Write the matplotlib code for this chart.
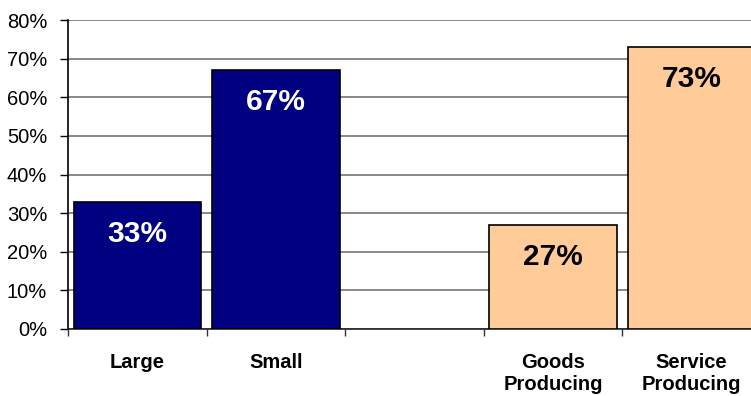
import matplotlib
matplotlib.use("Agg")
import matplotlib.pyplot as plt
import numpy as np

categories = ["Large", "Small", "", "Goods\nProducing", "Service\nProducing"]
values = [33, 67, None, 27, 73]
bar_colors = ["#000080", "#000080", None, "#FFCC99", "#FFCC99"]
label_colors = ["white", "white", None, "black", "black"]
yticks = [0, 10, 20, 30, 40, 50, 60, 70, 80]

plt.rcParams['font.family'] = ['Liberation Sans', 'DejaVu Sans']

fig = plt.figure(figsize=(7.51, 3.96), dpi=100)
ax = fig.add_axes([68/751, 67/396, 693/751, 309/396])

x = np.arange(len(categories))
for i, v in enumerate(values):
    if v is None:
        continue
    ax.bar(x[i], v, width=0.92, color=bar_colors[i], edgecolor="black", linewidth=1.2, zorder=3)
    ax.annotate(f"{v}%", xy=(x[i], v), xytext=(0, -32), textcoords="offset pixels",
                ha="center", va="center", fontsize=21.5, fontweight="bold",
                color=label_colors[i], zorder=4)

ax.set_xlim(-0.5, len(categories) - 0.5)
ax.set_ylim(0, 80)
ax.set_yticks(yticks)
ax.set_yticklabels([f"{t}%" for t in yticks], fontsize=14.5)
ax.yaxis.grid(True, color="#808080", linewidth=1.3, zorder=0)
ax.set_axisbelow(True)

ax.set_xticks(x)
ax.set_xticklabels(categories, fontsize=14.5, fontweight="bold", linespacing=1.25)
ax.set_xticks(np.arange(-0.5, len(categories), 1.0), minor=True)
ax.tick_params(axis="x", which="major", length=0, pad=17)
ax.tick_params(axis="x", which="minor", length=5, width=1, color="#333333", direction="out")
ax.tick_params(axis="y", length=6, width=1, color="black", direction="out", pad=9)

for s in ["top", "right"]:
    ax.spines[s].set_visible(False)
ax.spines["left"].set_color("black")
ax.spines["bottom"].set_color("#222222")
ax.spines["left"].set_linewidth(1.2)
ax.spines["bottom"].set_linewidth(1.2)

fig.savefig("out.png", dpi=100)
